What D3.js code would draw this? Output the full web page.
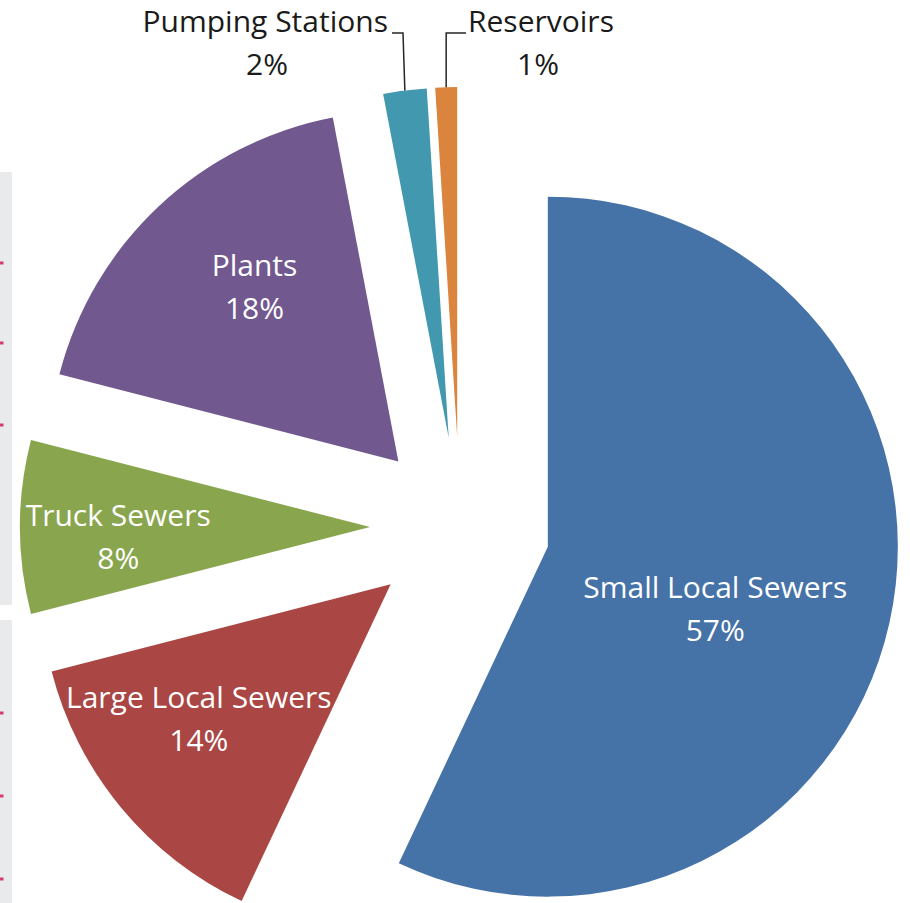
<!DOCTYPE html>
<html>
<head>
<meta charset="utf-8">
<script src="https://cdn.jsdelivr.net/npm/d3@7"></script>
<style>
  html, body { margin: 0; padding: 0; background: #ffffff; }
  svg { display: block; }
  text { font-family: "Open Sans", "Noto Sans", sans-serif; }
</style>
</head>
<body>
<svg id="chart" width="910" height="903"></svg>
<script>
// Cost share by asset type (percent)
const categories = ["Small Local Sewers", "Large Local Sewers", "Truck Sewers", "Plants", "Pumping Stations", "Reservoirs"];
const shares = [57, 14, 8, 18, 2, 1];
const colors = ["#4572A7", "#AA4643", "#89A54E", "#71588F", "#4198AF", "#DB843D"];

const W = 910, H = 903;
const svg = d3.select("#chart");

// spreadsheet cell strip peeking in at the left edge
const strip = svg.append("g");
[[172, 605], [620, 903]].forEach(([y0, y1]) => {
  strip.append("rect").attr("x", 0).attr("y", y0).attr("width", 12).attr("height", y1 - y0).attr("fill", "#e9eaec");
});
[263, 343, 425, 713, 796, 879].forEach(y => {
  strip.append("rect").attr("x", 0).attr("y", y - 1.5).attr("width", 3.5).attr("height", 3).attr("fill", "#d63a6e");
});

// pie layout
const cx = 460, cy = 527;          // pie centre
const R = 350;                     // radius
const explode = 90;                // distance each slice is pulled out

const pie = d3.pie().sort(null).value(d => d.value);
const rows = categories.map((c, i) => ({ name: c, value: shares[i], color: colors[i] }));
const arcs = pie(rows);
const arc = d3.arc().innerRadius(0).outerRadius(R);

const polar = (ang, r) => [Math.sin(ang) * r, -Math.cos(ang) * r];

const g = svg.append("g").attr("transform", `translate(${cx},${cy})`);

const slices = g.selectAll("g.slice").data(arcs).enter().append("g")
  .attr("class", "slice")
  .attr("transform", d => {
    const m = (d.startAngle + d.endAngle) / 2;
    const [dx, dy] = polar(m, explode);
    return `translate(${dx},${dy})`;
  });

slices.append("path")
  .attr("d", arc)
  .attr("fill", d => d.data.color);

// inside labels: radial distance (fraction of R) and angular nudge (degrees)
const inside = {
  "Small Local Sewers": { k: 0.51, da: 7.7 },
  "Large Local Sewers": { k: 0.67, da: 4.5 },
  "Truck Sewers":       { k: 0.72, da: -2.3 },
  "Plants":             { k: 0.645, da: 3.6 }
};
const fs = 30, lineGap = 43;

slices.filter(d => inside[d.data.name]).each(function(d) {
  const p = inside[d.data.name];
  const m = (d.startAngle + d.endAngle) / 2 + p.da * Math.PI / 180;
  const [x, y] = polar(m, p.k * R);
  const t = d3.select(this).append("text")
    .attr("text-anchor", "middle")
    .attr("fill", "#ffffff")
    .attr("font-size", fs);
  t.append("tspan").attr("x", x).attr("y", y - 11).text(d.data.name);
  t.append("tspan").attr("x", x).attr("y", y - 11 + lineGap).text(d.data.value + "%");
});

// outside labels with leader lines for the thin slices
// elbowX null means the leader drops straight down to the slice
const outside = {
  "Pumping Stations": { anchor: "end", tx: 388, cx: 267, elbowX: 403, gapX: 392 },
  "Reservoirs":       { anchor: "start", tx: 468, cx: 538, elbowX: null, gapX: 466 }
};
const baseY = 32;

slices.filter(d => outside[d.data.name]).each(function(d) {
  const o = outside[d.data.name];
  const m = (d.startAngle + d.endAngle) / 2;
  const [dx, dy] = polar(m, explode);
  const [ex, ey] = polar(m, R);
  // end point on the outer arc, in chart coordinates
  const px = cx + dx + ex, py = cy + dy + ey;
  const elbowX = o.elbowX == null ? px : o.elbowX;
  svg.append("polyline")
    .attr("points", [[o.gapX, baseY + 1], [elbowX, baseY + 1], [px, py]].map(p => p.join(",")).join(" "))
    .attr("fill", "none")
    .attr("stroke", "#262626")
    .attr("stroke-width", 1.5);
  svg.append("text")
    .attr("x", o.tx).attr("y", baseY)
    .attr("text-anchor", o.anchor)
    .attr("font-size", fs)
    .attr("fill", "#1a1a1a")
    .text(d.data.name);
  svg.append("text")
    .attr("x", o.cx).attr("y", baseY + 43)
    .attr("text-anchor", "middle")
    .attr("font-size", fs)
    .attr("fill", "#1a1a1a")
    .text(d.data.value + "%");
});
</script>
</body>
</html>
